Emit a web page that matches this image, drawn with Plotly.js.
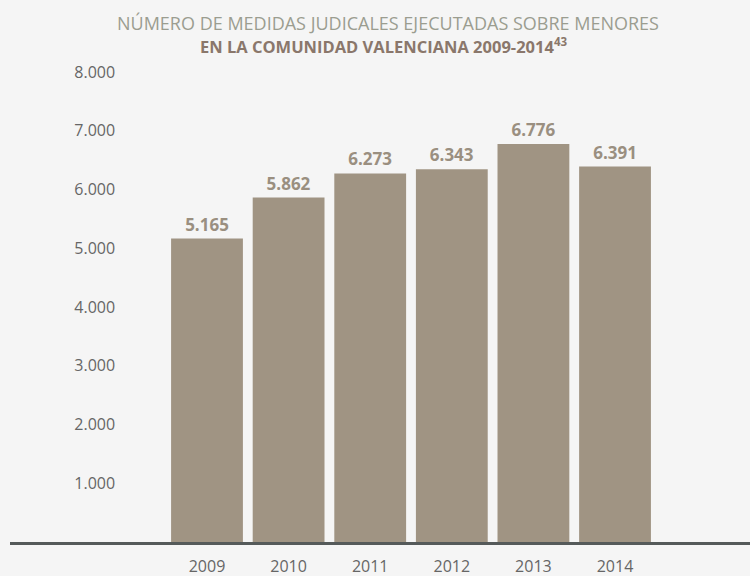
<!DOCTYPE html>
<html>
<head>
<meta charset="utf-8">
<script src="https://cdn.plot.ly/plotly-3.0.1.min.js"></script>
<style>html,body{margin:0;padding:0;background:#f5f5f5;}</style>
</head>
<body>
<div id="chart" style="width:750px;height:576px;"></div>
<script>
const years = ["2009", "2010", "2011", "2012", "2013", "2014"];
const medidas = [5165, 5862, 6273, 6343, 6776, 6391];
const yTicks = [1000, 2000, 3000, 4000, 5000, 6000, 7000, 8000];
const titleLine1 = "NÚMERO DE MEDIDAS JUDICALES EJECUTADAS SOBRE MENORES";
const titleLine2 = "<b>EN LA COMUNIDAD VALENCIANA 2009-2014<sup>43</sup></b>";

const trace = {
  type: "bar",
  x: years,
  y: medidas,
  marker: {color: "#a09483"},
  texttemplate: "%{y:,d}",
  textposition: "outside",
  textfont: {family: "Open Sans, sans-serif", size: 17, color: "#9a8f80", weight: 700},
  cliponaxis: false,
  hoverinfo: "skip"
};

const layout = {
  width: 750, height: 576,
  paper_bgcolor: "#f5f5f5",
  plot_bgcolor: "#f5f5f5",
  separators: ",.",
  margin: {l: 10, r: 0, t: 72, b: 34},
  bargap: 0.12,
  showlegend: false,
  annotations: [
    {text: titleLine1, xref: "paper", yref: "paper", x: 0.511, y: 1.104,
     xanchor: "center", yanchor: "middle", showarrow: false,
     font: {family: "Open Sans, sans-serif", size: 18, color: "#9b9d90"}},
    {text: titleLine2, xref: "paper", yref: "paper", x: 0.506, y: 1.055,
     xanchor: "center", yanchor: "middle", showarrow: false,
     font: {family: "Open Sans, sans-serif", size: 16.5, color: "#8a776b"}}
  ],
  xaxis: {
    type: "category",
    range: [-2.414, 6.654],
    showline: true, linewidth: 3, linecolor: "#555a5a",
    ticks: "", showgrid: false, zeroline: false,
    ticklabelstandoff: 8,
    tickfont: {family: "Open Sans, sans-serif", size: 16, color: "#666666"},
    fixedrange: true
  },
  yaxis: {
    range: [0, 8000],
    tickvals: yTicks,
    tickformat: ",d",
    anchor: "free",
    position: 0.142,
    showgrid: false, zeroline: false, showline: false, ticks: "",
    tickfont: {family: "Open Sans, sans-serif", size: 16, color: "#666666"},
    fixedrange: true
  }
};

Plotly.newPlot("chart", [trace], layout, {displayModeBar: false, staticPlot: true});
</script>
</body>
</html>
